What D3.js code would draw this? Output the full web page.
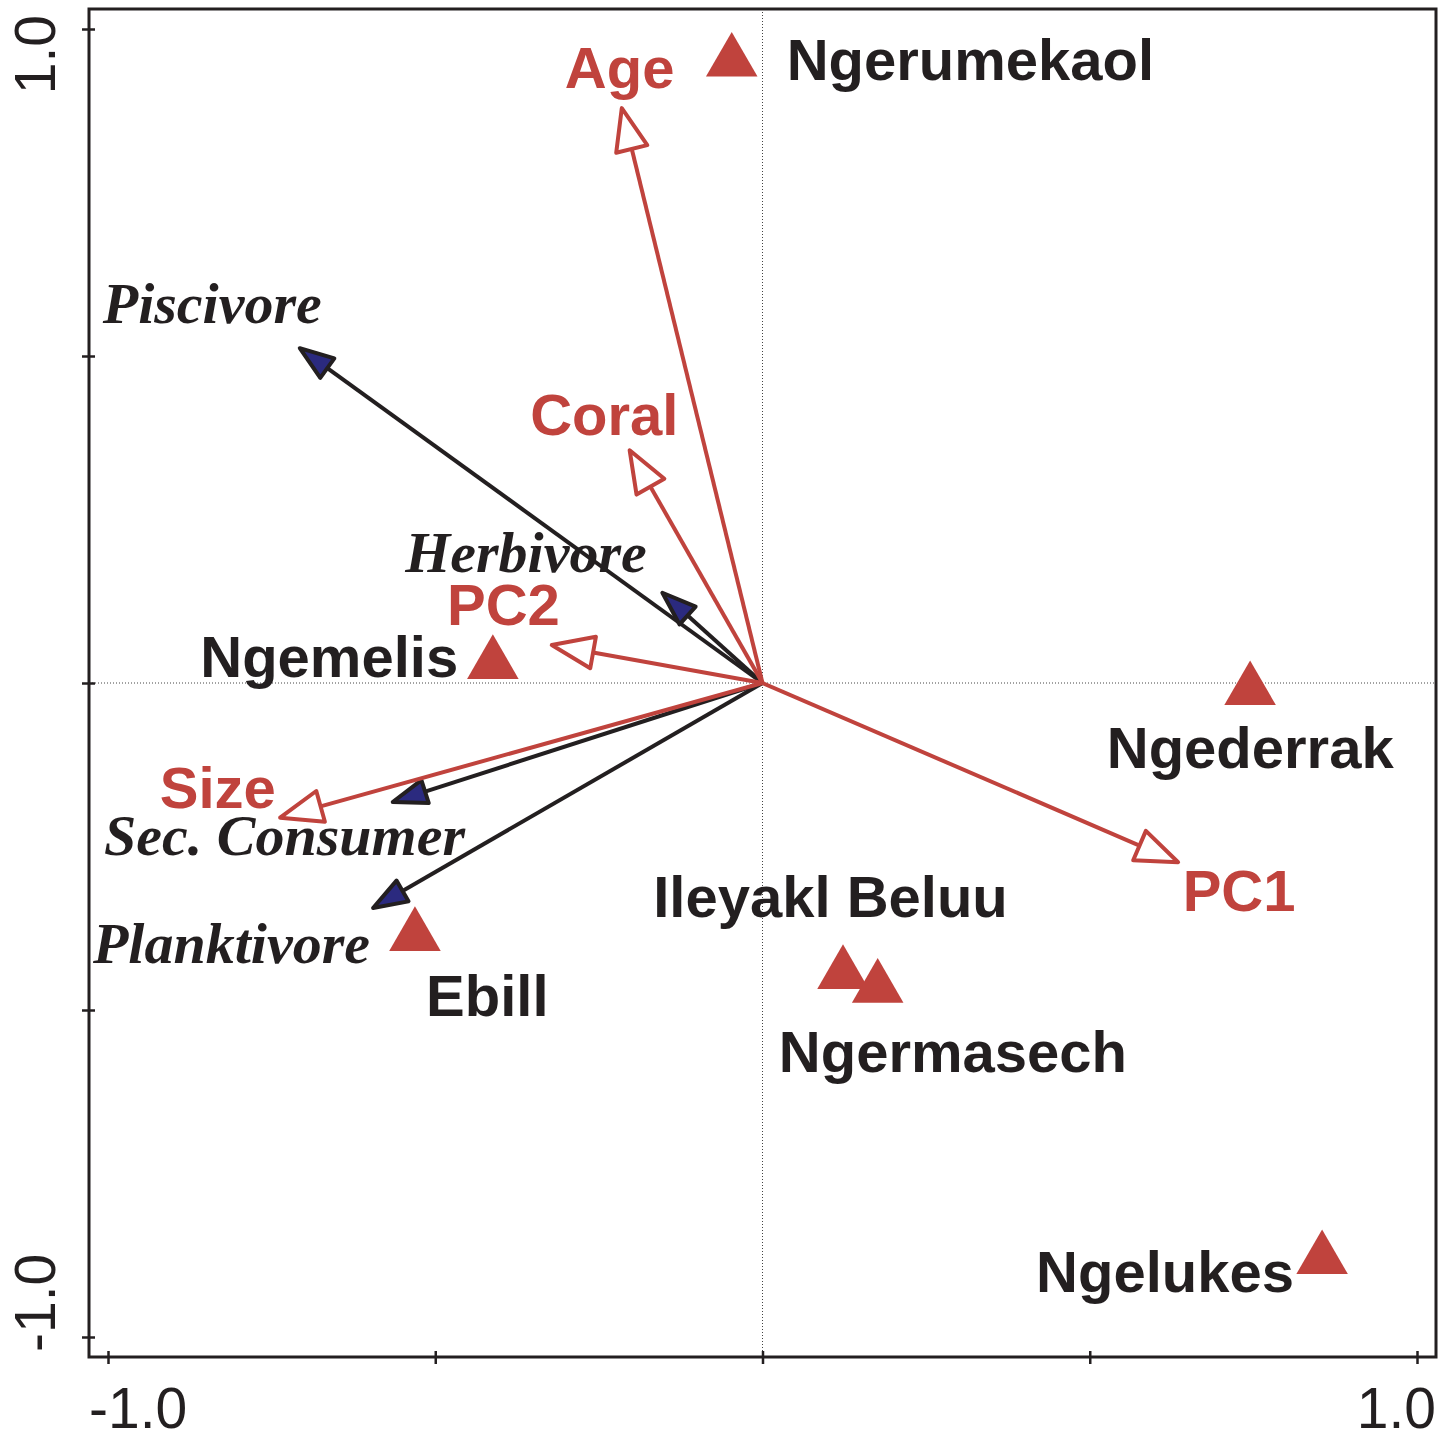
<!DOCTYPE html>
<html lang="en">
<head>
<meta charset="UTF-8">
<title>RDA biplot</title>
<script src="https://d3js.org/d3.v7.min.js"></script>
<style>
  body { margin: 0; background: #fff; }
  .site-label { font-family: "Liberation Sans", Arial, sans-serif; font-weight: bold; font-size: 58px; fill: #231f20; }
  .env-label { font-family: "Liberation Sans", Arial, sans-serif; font-weight: bold; font-size: 58px; fill: #c0433d; }
  .fish-label { font-family: "Liberation Serif", "Times New Roman", serif; font-weight: bold; font-style: italic; font-size: 58px; fill: #231f20; }
  .tick-label { font-family: "Liberation Sans", Arial, sans-serif; font-size: 57px; fill: #231f20; }
</style>
</head>
<body>
<div id="chart"></div>
<script>
// environmental variables (red, hollow heads)
const envNames = ["Age", "Coral", "PC2", "Size", "PC1"];
const envX = [-0.215, -0.203, -0.322, -0.737, 0.635];
const envY = [0.879, 0.356, 0.058, -0.206, -0.274];
const envLabelX = [-0.302, -0.355, -0.482, -0.921, 0.642];
const envLabelY = [0.910, 0.379, 0.089, -0.191, -0.349];

// trophic groups (black, filled heads)
const fishNames = ["Piscivore", "Herbivore", "Sec. Consumer", "Planktivore"];
const fishX = [-0.707, -0.153, -0.565, -0.595];
const fishY = [0.512, 0.138, -0.182, -0.344];
const fishLabelX = [-1.008, -0.546, -1.006, -1.023];
const fishLabelY = [0.550, 0.170, -0.263, -0.428];

// sites (red triangles)
const siteNames = ["Ngerumekaol", "Ngemelis", "Ngederrak", "Ebill", "Ileyakl Beluu", "Ngermasech", "Ngelukes"];
const siteX = [-0.047, -0.412, 0.745, -0.531, 0.123, 0.176, 0.855];
const siteY = [0.950, 0.029, -0.011, -0.387, -0.445, -0.466, -0.881];
const siteLabelX = [0.037, -0.859, 0.526, -0.514, -0.167, 0.025, 0.418];
const siteLabelY = [0.922, 0.009, -0.130, -0.509, -0.358, -0.595, -0.931];

const tickValues = [-1, -0.5, 0, 0.5, 1];
const tickLabels = ["-1.0", "1.0"];

const width = 1450, height = 1433;
const frame = {left: 89, right: 1436, top: 9, bottom: 1357};
const red = "#c0433d", ink = "#231f20", navy = "#2b2a7f";

const x = d3.scaleLinear().domain([-1, 1]).range([108, 1417]);
const y = d3.scaleLinear().domain([-1, 1]).range([1337, 29]);

const svg = d3.select("#chart").append("svg")
  .attr("width", width).attr("height", height);

// zero lines
svg.append("line")
  .attr("x1", x(0)).attr("x2", x(0)).attr("y1", frame.top).attr("y2", frame.bottom)
  .attr("stroke", "#444").attr("stroke-width", 1).attr("stroke-dasharray", "1,2");
svg.append("line")
  .attr("x1", frame.left).attr("x2", frame.right).attr("y1", y(0)).attr("y2", y(0))
  .attr("stroke", "#444").attr("stroke-width", 1).attr("stroke-dasharray", "1,2");

// frame
svg.append("rect")
  .attr("x", frame.left).attr("y", frame.top)
  .attr("width", frame.right - frame.left).attr("height", frame.bottom - frame.top)
  .attr("fill", "none").attr("stroke", ink).attr("stroke-width", 3);

// axes: ticks crossing the frame
const xAxis = svg.append("g")
  .attr("transform", `translate(0,${frame.bottom - 6})`)
  .call(d3.axisBottom(x).tickValues(tickValues).tickSize(13).tickFormat(""));
const yAxis = svg.append("g")
  .attr("transform", `translate(${frame.left + 6},0)`)
  .call(d3.axisLeft(y).tickValues(tickValues).tickSize(13).tickFormat(""));
[xAxis, yAxis].forEach(a => {
  a.select(".domain").remove();
  a.selectAll(".tick line").attr("stroke", ink).attr("stroke-width", 2.5);
});

// tick labels
svg.append("text").attr("class", "tick-label")
  .attr("x", frame.left).attr("y", 1428).attr("text-anchor", "start").text(tickLabels[0]);
svg.append("text").attr("class", "tick-label")
  .attr("x", frame.right).attr("y", 1428).attr("text-anchor", "end").text(tickLabels[1]);
svg.append("text").attr("class", "tick-label")
  .attr("transform", `translate(55,${frame.top + 6}) rotate(-90)`)
  .attr("text-anchor", "end").text(tickLabels[1]);
svg.append("text").attr("class", "tick-label")
  .attr("transform", `translate(55,${frame.bottom - 5}) rotate(-90)`)
  .attr("text-anchor", "start").text(tickLabels[0]);

// arrows
function arrow(vx, vy, color, headFill, headLen, headHalf) {
  const x0 = x(0), y0 = y(0), x1 = x(vx), y1 = y(vy);
  const dx = x1 - x0, dy = y1 - y0, len = Math.hypot(dx, dy);
  const ux = dx / len, uy = dy / len;
  const bx = x1 - ux * headLen, by = y1 - uy * headLen;
  svg.append("line")
    .attr("x1", x0).attr("y1", y0).attr("x2", bx).attr("y2", by)
    .attr("stroke", color).attr("stroke-width", 4);
  const pts = [[x1, y1], [bx - uy * headHalf, by + ux * headHalf], [bx + uy * headHalf, by - ux * headHalf]];
  svg.append("polygon")
    .attr("points", pts.map(p => p.join(",")).join(" "))
    .attr("fill", headFill).attr("stroke", color).attr("stroke-width", 4)
    .attr("stroke-linejoin", "round");
}

fishNames.forEach((n, i) => arrow(fishX[i], fishY[i], ink, navy, 34, 12));
envNames.forEach((n, i) => arrow(envX[i], envY[i], red, "#fff", 42, 16));

// sites
const tri = d3.symbol().type(d3.symbolTriangle).size(1150);
siteNames.forEach((n, i) => {
  svg.append("path").attr("d", tri())
    .attr("transform", `translate(${x(siteX[i])},${y(siteY[i])})`)
    .attr("fill", red);
});

// labels
siteNames.forEach((n, i) => {
  svg.append("text").attr("class", "site-label")
    .attr("x", x(siteLabelX[i])).attr("y", y(siteLabelY[i])).text(n);
});
envNames.forEach((n, i) => {
  svg.append("text").attr("class", "env-label")
    .attr("x", x(envLabelX[i])).attr("y", y(envLabelY[i])).text(n);
});
fishNames.forEach((n, i) => {
  svg.append("text").attr("class", "fish-label")
    .attr("x", x(fishLabelX[i])).attr("y", y(fishLabelY[i])).text(n);
});
</script>
</body>
</html>
